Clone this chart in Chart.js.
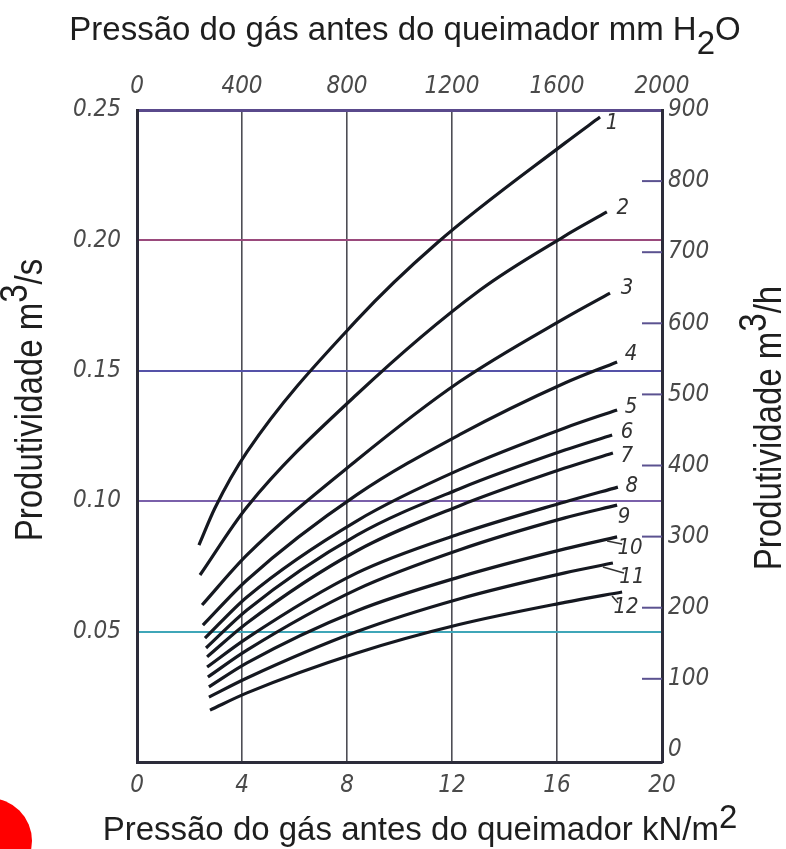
<!DOCTYPE html>
<html>
<head>
<meta charset="utf-8">
<script src="https://cdn.jsdelivr.net/npm/chart.js@4.4.1/dist/chart.umd.min.js"></script>
<style>
  body { margin: 0; background: #fff; overflow: hidden; }
  #wrap { position: relative; width: 786px; height: 849px; }
  #dot { position: absolute; left: -54px; top: 798px; width: 86px; height: 86px; border-radius: 50%; background: #f00; }
</style>
</head>
<body>
<div id="wrap">
  <canvas id="chart" width="786" height="849"></canvas>
  <div id="dot"></div>
</div>
<script>
// --- axis ticks ---
const kpaTicks = [0, 4, 8, 12, 16, 20];
const mmTicks = [0, 400, 800, 1200, 1600, 2000];
const m3sTicks = [0.05, 0.10, 0.15, 0.20, 0.25];
const m3hTicks = [0, 100, 200, 300, 400, 500, 600, 700, 800, 900];

// --- curves: pressure kN/m2 (p) vs productivity m3/s (q) ---
const curveNames = ['1', '2', '3', '4', '5', '6', '7', '8', '9', '10', '11', '12'];
const p1 = [2.36, 2.97, 4.19, 8.38, 11.43, 16.30, 17.64];
const q1 = [0.0832, 0.0974, 0.1189, 0.1695, 0.1990, 0.2373, 0.2473];
const p2 = [2.40, 4.19, 8.38, 13.07, 16.23, 17.90];
const q2 = [0.0717, 0.0978, 0.1410, 0.1810, 0.2013, 0.2109];
const p3 = [2.48, 4.19, 8.38, 12.27, 16.30, 18.02];
const q3 = [0.0602, 0.0794, 0.1158, 0.1457, 0.1702, 0.1798];
const p4 = [2.51, 4.19, 8.38, 12.27, 16.30, 18.29];
const q4 = [0.0525, 0.0698, 0.1025, 0.1254, 0.1453, 0.1534];
const p5 = [2.59, 4.19, 8.38, 12.27, 16.30, 18.29];
const q5 = [0.0475, 0.0633, 0.0925, 0.1120, 0.1281, 0.1350];
const p6 = [2.63, 4.19, 8.38, 12.27, 16.30, 18.10];
const q6 = [0.0437, 0.0583, 0.0870, 0.1047, 0.1196, 0.1254];
const p7 = [2.67, 4.19, 8.38, 12.27, 16.30, 18.13];
const q7 = [0.0403, 0.0533, 0.0810, 0.0982, 0.1127, 0.1185];
const p8 = [2.67, 4.19, 8.38, 12.27, 16.30, 18.32];
const q8 = [0.0364, 0.0475, 0.0725, 0.0874, 0.0997, 0.1054];
const p9 = [2.70, 4.19, 8.38, 12.27, 16.30, 18.29];
const q9 = [0.0326, 0.0429, 0.0662, 0.0813, 0.0936, 0.0985];
const p10 = [2.74, 4.19, 8.38, 12.27, 16.30, 18.29];
const q10 = [0.0288, 0.0380, 0.0580, 0.0709, 0.0817, 0.0863];
const p11 = [2.74, 4.19, 8.38, 12.27, 16.30, 18.13];
const q11 = [0.0249, 0.0322, 0.0500, 0.0625, 0.0725, 0.0763];
const p12 = [2.78, 4.19, 8.38, 12.27, 16.30, 18.48];
const q12 = [0.0199, 0.0265, 0.0418, 0.0527, 0.0612, 0.0652];

const pList = [p1, p2, p3, p4, p5, p6, p7, p8, p9, p10, p11, p12];
const qList = [q1, q2, q3, q4, q5, q6, q7, q8, q9, q10, q11, q12];

// label offsets from curve end (px) + whether a small leader line is drawn
const labelOffsets = [[12, 6], [16, -4], [17, -5], [14, -8], [14, -3], [15, -3], [14, 3], [14, -1], [7, 12], [13, 11], [19, 14], [4, 15]];
const labelLeaders = [false, false, false, false, false, false, false, false, false, true, true, true];

const tickFont = { family: "'DejaVu Sans Condensed', 'DejaVu Sans', sans-serif", size: 24, style: 'italic' };
const tickColor = '#4a4a4a';
const titleFont = "33px 'Liberation Sans', Arial, sans-serif";

const hLineColors = { '0.05': '#3fa6b8', '0.1': '#7a60aa', '0.15': '#5552a8', '0.2': '#9a4a7c', '0.25': '#6a4a90' };

const datasets = pList.map((p, i) => ({
    label: curveNames[i],
    data: p.map((x, j) => ({ x: x, y: qList[i][j] })),
    showLine: true,
    borderColor: '#151820',
    borderWidth: 3.2,
    pointRadius: 0,
    cubicInterpolationMode: 'monotone',
    xAxisID: 'x',
    yAxisID: 'y'
}));

// draws a string made of parts with their own baseline shift
function drawRich(ctx, parts, x, y) {
    const widths = parts.map(p => ctx.measureText(p[0]).width);
    const total = widths.reduce((a, b) => a + b, 0);
    let cx = x - total / 2;
    parts.forEach((p, i) => {
        ctx.fillText(p[0], cx, y + p[1]);
        cx += widths[i];
    });
}

const titlesPlugin = {
    id: 'titles',
    afterDraw(chart) {
        const ctx = chart.ctx;
        ctx.save();
        ctx.fillStyle = '#1e1e1e';
        ctx.font = titleFont;
        ctx.textAlign = 'left';
        ctx.textBaseline = 'alphabetic';
        drawRich(ctx, [['Pressão do gás antes do queimador mm H', 0], ['2', 14], ['O', 0]], 405, 40);
        drawRich(ctx, [['Pressão do gás antes do queimador kN/m', 0], ['2', -12]], 420, 840);

        ctx.save();
        ctx.translate(42, 400);
        ctx.rotate(-Math.PI / 2);
        ctx.scale(1, 1.15);
        drawRich(ctx, [['Produtividade m', 0], ['3', -13], ['/s', 0]], 0, 0);
        ctx.restore();

        ctx.save();
        ctx.translate(781, 428);
        ctx.rotate(-Math.PI / 2);
        ctx.scale(1, 1.15);
        drawRich(ctx, [['Produtividade m', 0], ['3', -13], ['/h', 0]], 0, 0);
        ctx.restore();
        ctx.restore();
    }
};

const curveLabelsPlugin = {
    id: 'curveLabels',
    afterDatasetsDraw(chart) {
        const ctx = chart.ctx;
        ctx.save();
        ctx.font = `italic 22px ${tickFont.family}`;
        ctx.fillStyle = '#333';
        ctx.strokeStyle = '#333';
        ctx.lineWidth = 1.5;
        ctx.textAlign = 'center';
        ctx.textBaseline = 'middle';
        chart.data.datasets.forEach((ds, i) => {
            const pts = chart.getDatasetMeta(i).data;
            const end = pts[pts.length - 1];
            const lx = end.x + labelOffsets[i][0];
            const ly = end.y + labelOffsets[i][1];
            if (labelLeaders[i]) {
                ctx.beginPath();
                ctx.moveTo(end.x - 10, end.y + 4);
                ctx.lineTo(lx - 8, ly - 4);
                ctx.stroke();
            }
            ctx.fillText(ds.label, lx, ly);
        });
        ctx.restore();
    }
};

// short tick marks pointing into the plot from the right axis
const rightTicksPlugin = {
    id: 'rightTicks',
    afterDatasetsDraw(chart) {
        const s = chart.scales.y1;
        const ctx = chart.ctx;
        const right = chart.chartArea.right;
        ctx.save();
        ctx.strokeStyle = '#5b5290';
        ctx.lineWidth = 2;
        m3hTicks.forEach(v => {
            if (v === 0 || v === 900) return;
            const y = s.getPixelForValue(v);
            ctx.beginPath();
            ctx.moveTo(right - 20, y);
            ctx.lineTo(right, y);
            ctx.stroke();
        });
        ctx.restore();
    }
};

const ctx = document.getElementById('chart').getContext('2d');
new Chart(ctx, {
    type: 'scatter',
    data: { datasets: datasets },
    options: {
        responsive: false,
        animation: false,
        layout: { padding: 0 },
        plugins: { legend: { display: false }, tooltip: { enabled: false } },
        scales: {
            x: {
                type: 'linear', position: 'bottom', min: 0, max: 20,
                afterBuildTicks: s => { s.ticks = kpaTicks.map(v => ({ value: v })); },
                afterFit: s => { s.height = 87; },
                grid: {
                    drawTicks: false, lineWidth: 1.6,
                    color: c => (c.tick && (c.tick.value === 0 || c.tick.value === 20)) ? 'rgba(0,0,0,0)' : '#4d4d55'
                },
                border: { color: '#2c2c3a', width: 3 },
                ticks: { padding: 9, font: tickFont, color: tickColor, callback: v => String(v) }
            },
            x2: {
                type: 'linear', position: 'top', min: 0, max: 2000,
                afterBuildTicks: s => { s.ticks = mmTicks.map(v => ({ value: v })); },
                afterFit: s => { s.height = 110; },
                grid: { drawOnChartArea: false, drawTicks: false },
                border: { color: '#5a4a8c', width: 3 },
                ticks: { padding: 9, font: tickFont, color: tickColor, callback: v => String(v) }
            },
            y: {
                type: 'linear', position: 'left', min: 0, max: 0.25,
                afterBuildTicks: s => { s.ticks = m3sTicks.map(v => ({ value: v })); },
                afterFit: s => { s.width = 137; },
                grid: {
                    drawTicks: false, lineWidth: 2,
                    color: c => c.tick ? (hLineColors[String(+c.tick.value.toFixed(2))] || '#6a4a90') : '#6a4a90'
                },
                border: { color: '#2c2c3a', width: 3 },
                ticks: { padding: 16, font: tickFont, color: tickColor, callback: v => v.toFixed(2) }
            },
            y1: {
                type: 'linear', position: 'right', min: -17, max: 900,
                afterBuildTicks: s => { s.ticks = m3hTicks.map(v => ({ value: v })); },
                afterFit: s => { s.width = 124; },
                grid: { drawOnChartArea: false, drawTicks: false },
                border: { color: '#2c2c3a', width: 3 },
                ticks: { padding: 6, font: tickFont, color: tickColor, callback: v => String(v) }
            }
        }
    },
    plugins: [titlesPlugin, curveLabelsPlugin, rightTicksPlugin]
});
</script>
</body>
</html>
